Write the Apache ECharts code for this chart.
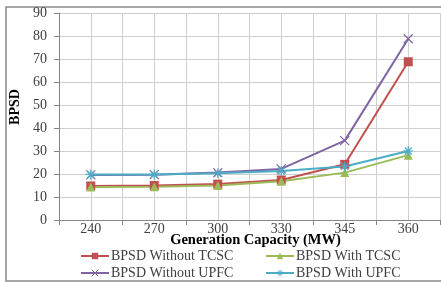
<!DOCTYPE html>
<html lang="en">
<head>
	<meta charset="UTF-8">
	<title>BPSD</title>
	<style type="text/css">
	body,html{
		width: 100%;
		height: 100%;
		margin: 0;
		padding: 0;
		background: #fff;
	}
	#container{
		width: 441px;
		height: 282px;
	}
	</style>
</head>
<body>
<div id="container"></div>
<script type="text/javascript" src="https://cdn.jsdelivr.net/npm/echarts@6/dist/echarts.min.js"></script>
<script type="text/javascript">
	// data
	var capacity = ['240', '270', '300', '330', '345', '360'];
	var seriesNames = ['BPSD Without TCSC', 'BPSD With TCSC', 'BPSD Without UPFC', 'BPSD With UPFC'];
	var withoutTCSC = [14.8, 15.0, 15.6, 17.4, 24.2, 68.8];
	var withTCSC = [14.3, 14.5, 15.0, 16.8, 20.6, 28.2];
	var withoutUPFC = [19.6, 19.7, 20.6, 22.2, 34.5, 78.8];
	var withUPFC = [19.8, 19.8, 20.3, 21.3, 23.3, 30.0];

	var values = [withoutTCSC, withTCSC, withoutUPFC, withUPFC];
	var colors = ['#C0504D', '#9BBB59', '#8064A2', '#4BACC6'];
	var symbols = [
		'rect',
		'triangle',
		'path://M0,0L10,10M10,0L0,10',
		'path://M0,5L10,5M5,0L5,10M1.5,1.5L8.5,8.5M8.5,1.5L1.5,8.5'
	];
	var symbolSizes = [9, 9, 9, 10];
	var font = '"Liberation Serif", "DejaVu Serif", serif';

	// half-band grid lines, like the excel chart
	var halfBands = [];
	for (var i = 0; i < capacity.length * 2; i++) halfBands.push('');

	var series = seriesNames.map(function (name, i) {
		var stroked = i >= 2;
		return {
			name: name,
			type: 'line',
			data: values[i],
			symbol: symbols[i],
			symbolSize: symbolSizes[i],
			showAllSymbol: true,
			lineStyle: { color: colors[i], width: 2 },
			itemStyle: {
				color: stroked ? 'rgba(0,0,0,0)' : colors[i],
				borderColor: colors[i],
				borderWidth: stroked ? 1.2 : 0
			},
			emphasis: { disabled: true },
			animation: false
		};
	});

	// one legend for each slot so the two columns line up
	var legendPos = [
		{ left: 80, top: 249 },
		{ left: 265, top: 249 },
		{ left: 80, top: 266 },
		{ left: 265, top: 266 }
	];
	var legends = seriesNames.map(function (name, i) {
		return {
			data: [name],
			left: legendPos[i].left,
			top: legendPos[i].top,
			itemWidth: 28,
			itemHeight: 8,
			itemGap: 2,
			padding: 0,
			itemStyle: { borderWidth: i >= 2 ? 1 : 0 },
			textStyle: { fontFamily: font, fontSize: 14, color: '#404040', padding: [0, 0, 0, -3] }
		};
	});

	var option = {
		backgroundColor: '#fff',
		graphic: [{
			type: 'rect',
			shape: { x: 6, y: 7, width: 440, height: 274 },
			style: { fill: 'none', stroke: '#8a8a8a', lineWidth: 1.5 },
			silent: true
		}, {
			type: 'text',
			x: 15,
			y: 107,
			rotation: Math.PI / 2,
			style: {
				text: 'BPSD',
				font: 'bold 14px ' + font,
				fill: '#000',
				align: 'center',
				verticalAlign: 'middle'
			},
			silent: true
		}],
		legend: legends,
		grid: { left: 59, right: 1, top: 13, bottom: 62 },
		xAxis: [{
			type: 'category',
			data: capacity,
			boundaryGap: true,
			name: 'Generation Capacity (MW)',
			nameLocation: 'middle',
			nameGap: 13,
			nameMoveOverlap: false,
			nameTextStyle: { fontFamily: font, fontSize: 14.5, fontWeight: 'bold', color: '#000', padding: [0, 0, 0, 12] },
			axisLine: { lineStyle: { color: '#868686', width: 1 } },
			axisTick: { show: true, length: 5, interval: 0, lineStyle: { color: '#868686' } },
			axisLabel: { interval: 0, margin: 2, fontFamily: font, fontSize: 14, color: '#404040' },
			splitLine: { show: false }
		}, {
			type: 'category',
			data: halfBands,
			position: 'bottom',
			boundaryGap: true,
			axisLine: { show: false },
			axisTick: { show: false },
			axisLabel: { show: false },
			splitLine: { show: true, interval: 0, lineStyle: { color: '#cfcfcf', width: 1 } }
		}],
		yAxis: {
			type: 'value',
			min: 0,
			max: 90,
			interval: 10,
			axisLine: { show: true, lineStyle: { color: '#868686', width: 1 } },
			axisTick: { show: true, length: 5, lineStyle: { color: '#868686' } },
			axisLabel: { margin: 12, fontFamily: font, fontSize: 14, color: '#404040' },
			splitLine: { show: true, lineStyle: { color: '#cfcfcf', width: 1 } }
		},
		series: series
	};

	var container = echarts.init(document.getElementById('container'));
	container.setOption(option, true);
</script>
</body>
</html>
